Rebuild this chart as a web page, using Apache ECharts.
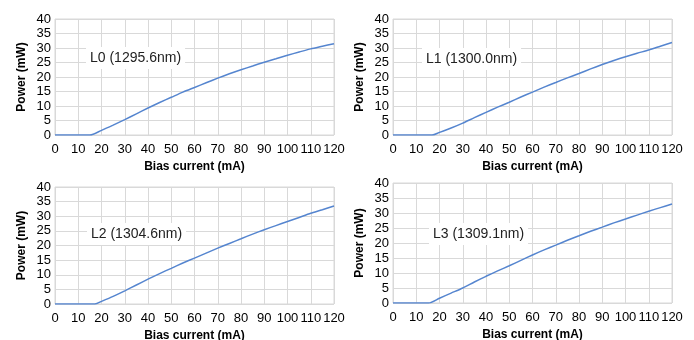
<!DOCTYPE html>
<html>
<head>
<meta charset="utf-8">
<script src="https://cdn.jsdelivr.net/npm/echarts@6/dist/echarts.min.js"></script>
<style>
  html, body { margin: 0; padding: 0; background: #fff; }
  #chart { width: 694px; height: 340px; }
</style>
</head>
<body>
<div id="chart"></div>
<script>
// bias current (mA) sample points for each laser
const currentL0 = [0, 10, 15, 20, 25, 30, 35, 40, 45, 50, 55, 60, 65, 70, 75, 80, 85, 90, 95, 100, 105, 110, 115, 120];
const currentL1 = [0, 10, 16.8, 20, 25, 30, 35, 40, 45, 50, 55, 60, 65, 70, 75, 80, 85, 90, 95, 100, 105, 110, 115, 120];
const currentL2 = [0, 10, 17.2, 20, 25, 30, 35, 40, 45, 50, 55, 60, 65, 70, 75, 80, 85, 90, 95, 100, 105, 110, 115, 120];
const currentL3 = [0, 10, 15.3, 20, 25, 30, 35, 40, 45, 50, 55, 60, 65, 70, 75, 80, 85, 90, 95, 100, 105, 110, 115, 120];

// optical power (mW)
const powerL0 = [0, 0, 0, 1.6, 3.4, 5.3, 7.3, 9.3, 11.2, 13.0, 14.8, 16.4, 18.0, 19.6, 21.1, 22.5, 23.8, 25.1, 26.3, 27.5, 28.6, 29.7, 30.6, 31.5];
const powerL1 = [0, 0, 0, 0.9, 2.4, 4.1, 6.0, 7.8, 9.6, 11.3, 13.1, 14.8, 16.5, 18.1, 19.7, 21.2, 22.8, 24.3, 25.7, 27.0, 28.2, 29.3, 30.6, 31.9];
const powerL2 = [0, 0, 0, 0.9, 2.6, 4.5, 6.5, 8.5, 10.4, 12.2, 14.0, 15.7, 17.4, 19.1, 20.7, 22.3, 23.9, 25.4, 26.8, 28.2, 29.6, 31.0, 32.2, 33.5];
const powerL3 = [0, 0, 0, 1.6, 3.3, 5.0, 7.0, 8.9, 10.7, 12.4, 14.2, 16.0, 17.7, 19.3, 20.9, 22.4, 23.9, 25.3, 26.7, 28.0, 29.3, 30.6, 31.8, 33.0];

const labels = ['L0 (1295.6nm)', 'L1 (1300.0nm)', 'L2 (1304.6nm)', 'L3 (1309.1nm)'];

const font = 'Liberation Sans, Arial, sans-serif';
const gridColor = '#d9d9d9';
const lineColor = '#5585cf';

const currents = [currentL0, currentL1, currentL2, currentL3];
const powers = [powerL0, powerL1, powerL2, powerL3];

const grids = [
  {left: 55, top: 19, width: 279, height: 116},
  {left: 393, top: 19, width: 279, height: 116},
  {left: 55, top: 187, width: 279, height: 117},
  {left: 393, top: 183, width: 279, height: 120}
];
const labelPos = [[86, 58], [422, 59], [87, 234], [429, 234]];

const chart = echarts.init(document.getElementById('chart'), null, {renderer: 'canvas'});

chart.setOption({
  animation: false,
  grid: grids.map(g => Object.assign({
    show: true, borderColor: gridColor, borderWidth: 1,
    containLabel: false, outerBoundsMode: 'none'
  }, g)),
  xAxis: grids.map((g, i) => ({
    type: 'value', gridIndex: i,
    min: 0, max: 120, interval: 10,
    name: 'Bias current (mA)', nameLocation: 'middle', nameGap: 26,
    nameTextStyle: {fontFamily: font, fontSize: 12, fontWeight: 'bold', color: '#000'},
    axisLine: {show: false}, axisTick: {show: false},
    axisLabel: {fontFamily: font, fontSize: 13, color: '#000', margin: 8},
    splitLine: {lineStyle: {color: gridColor, width: 1}}
  })),
  yAxis: grids.map((g, i) => ({
    type: 'value', gridIndex: i,
    min: 0, max: 40, interval: 5,
    name: 'Power (mW)', nameLocation: 'middle', nameGap: 27,
    nameTextStyle: {fontFamily: font, fontSize: 12, fontWeight: 'bold', color: '#000'},
    axisLine: {show: false}, axisTick: {show: false},
    axisLabel: {fontFamily: font, fontSize: 13, color: '#000', margin: 4},
    splitLine: {lineStyle: {color: gridColor, width: 1}}
  })),
  series: powers.map((p, i) => ({
    type: 'line', xAxisIndex: i, yAxisIndex: i,
    data: currents[i].map((c, j) => [c, p[j]]),
    smooth: 0.25,
    showSymbol: false,
    lineStyle: {color: lineColor, width: 1.5}
  })),
  graphic: labels.map((t, i) => ({
    type: 'text', x: labelPos[i][0], y: labelPos[i][1], z: 100,
    style: {
      text: t, fontFamily: font, fontSize: 14, fill: '#222',
      verticalAlign: 'middle', align: 'left',
      backgroundColor: '#fff', padding: [4, 4]
    }
  }))
});
</script>
</body>
</html>
